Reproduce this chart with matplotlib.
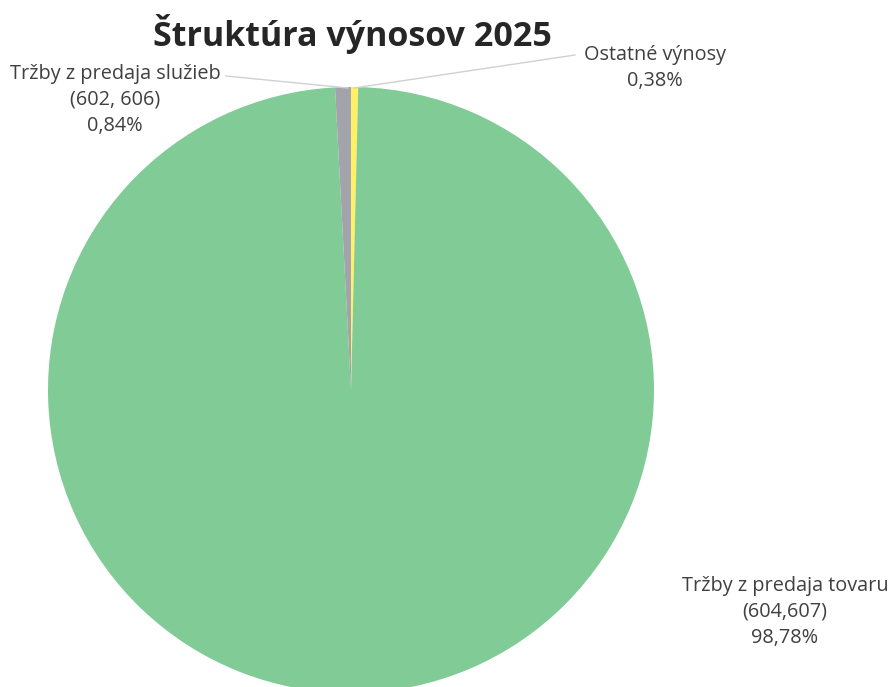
import matplotlib
matplotlib.use("Agg")
import matplotlib.pyplot as plt

categories = ["Ostatné výnosy", "Tržby z predaja tovaru\n(604,607)", "Tržby z predaja služieb\n(602, 606)"]
values = [0.38, 98.78, 0.84]
pct_labels = ["0,38%", "98,78%", "0,84%"]
colors = ["#FFF066", "#80CB96", "#A3A3AC"]
title = "Štruktúra výnosov 2025"

W, H = 891, 687
fig = plt.figure(figsize=(W / 100, H / 100), dpi=100)
ax = fig.add_axes([0, 0, 1, 1])

cx, cy, r = 351, H - 390, 303
ax.pie(values, colors=colors, startangle=90, counterclock=False,
       center=(cx, cy), radius=r, frame=True,
       wedgeprops=dict(linewidth=0))
ax.set_xlim(0, W)
ax.set_ylim(0, H)
ax.set_aspect("equal")
ax.axis("off")

font = "Open Sans"
tc = "#404040"
ax.text(352, H - 34, title, ha="center", va="center", fontsize=24.5,
        fontweight="bold", family=font, color="#262626")

# label positions (pixel coords)
label_pos = [(655, H - 68), (785, H - 612), (115, H - 100)]
for cat, pct, (x, y) in zip(categories, pct_labels, label_pos):
    ax.text(x, y, cat + "\n" + pct, ha="center", va="center", fontsize=14.3,
            family=font, color=tc, linespacing=1.38)

# leader lines
ax.plot([354, 575], [H - 88, H - 55], color="#D0D0D0", lw=1)
ax.plot([348, 226], [H - 88, H - 76], color="#D0D0D0", lw=1)

fig.savefig("out.png", dpi=100)
